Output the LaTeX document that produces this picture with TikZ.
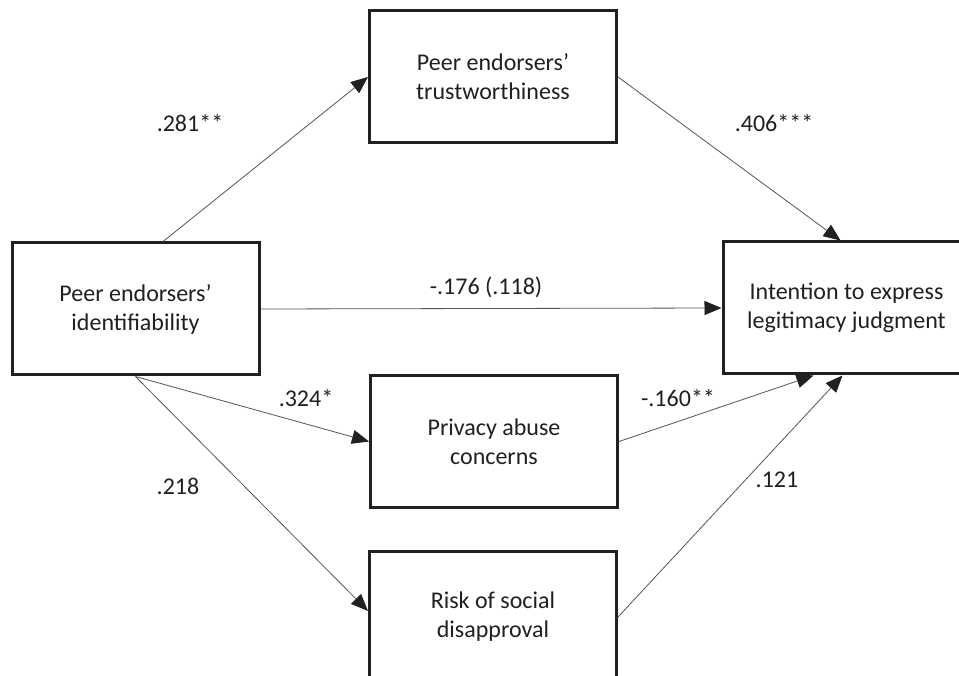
\documentclass[tikz,border=0pt]{standalone}
\usepackage{fontspec}
\setmainfont{Carlito}
\usetikzlibrary{arrows.meta}
\definecolor{boxgray}{HTML}{231F20}
\definecolor{linegray}{HTML}{555555}
\begin{document}
\begin{tikzpicture}[x=1pt,y=-1pt,
  varbox/.style={draw=boxgray,line width=3pt,minimum width=247pt,minimum height=132pt,
    align=center,inner sep=0pt,text=boxgray,font=\fontsize{24}{29}\selectfont},
  pathline/.style={draw=linegray,line width=0.8pt,-{Triangle[length=17pt,width=14pt,color=boxgray]}},
  coef/.style={text=boxgray,font=\fontsize{24}{29}\selectfont}]
  \useasboundingbox (0,0) rectangle (959,676);
  \clip (0,0) rectangle (959,676);
  \fill[white] (0,0) rectangle (959,676);
  % boxes
  \node[varbox] (ident) at (135.5,309) {Peer endorsers’\\identifiability};
  \node[varbox] (trust) at (493,77) {Peer endorsers’\\trustworthiness};
  \node[varbox] (privacy) at (494,441.5) {Privacy abuse\\concerns};
  \node[varbox] (risk) at (493,617) {Risk of social\\disapproval};
  \node[varbox] (intent) at (846.5,308) {Intention to express\\legitimacy judgment};
  % paths
  \draw[pathline] ([xshift=27.5pt]ident.north) -- (trust.west);
  \draw[pathline] (ident.east) -- (intent.west);
  \draw[pathline] (ident.south) -- (privacy.west);
  \draw[pathline] (ident.south) -- ([yshift=6pt]risk.west);
  \draw[pathline] (trust.east) -- ([xshift=-6pt]intent.north);
  \draw[pathline] (privacy.east) -- ([xshift=-33pt]intent.south);
  \draw[pathline] (risk.east) -- ([xshift=-4pt]intent.south);
  % coefficients
  \node[coef] (c1) at (190,123) {.281**};
  \node[coef] (c2) at (774,123) {.406***};
  \node[coef] (c3) at (486,287) {-.176 (.118)};
  \node[coef] (c4) at (306,398) {.324*};
  \node[coef] (c5) at (178,486) {.218};
  \node[coef] (c6) at (678,398) {-.160**};
  \node[coef] (c7) at (777,480) {.121};
\end{tikzpicture}
\end{document}
